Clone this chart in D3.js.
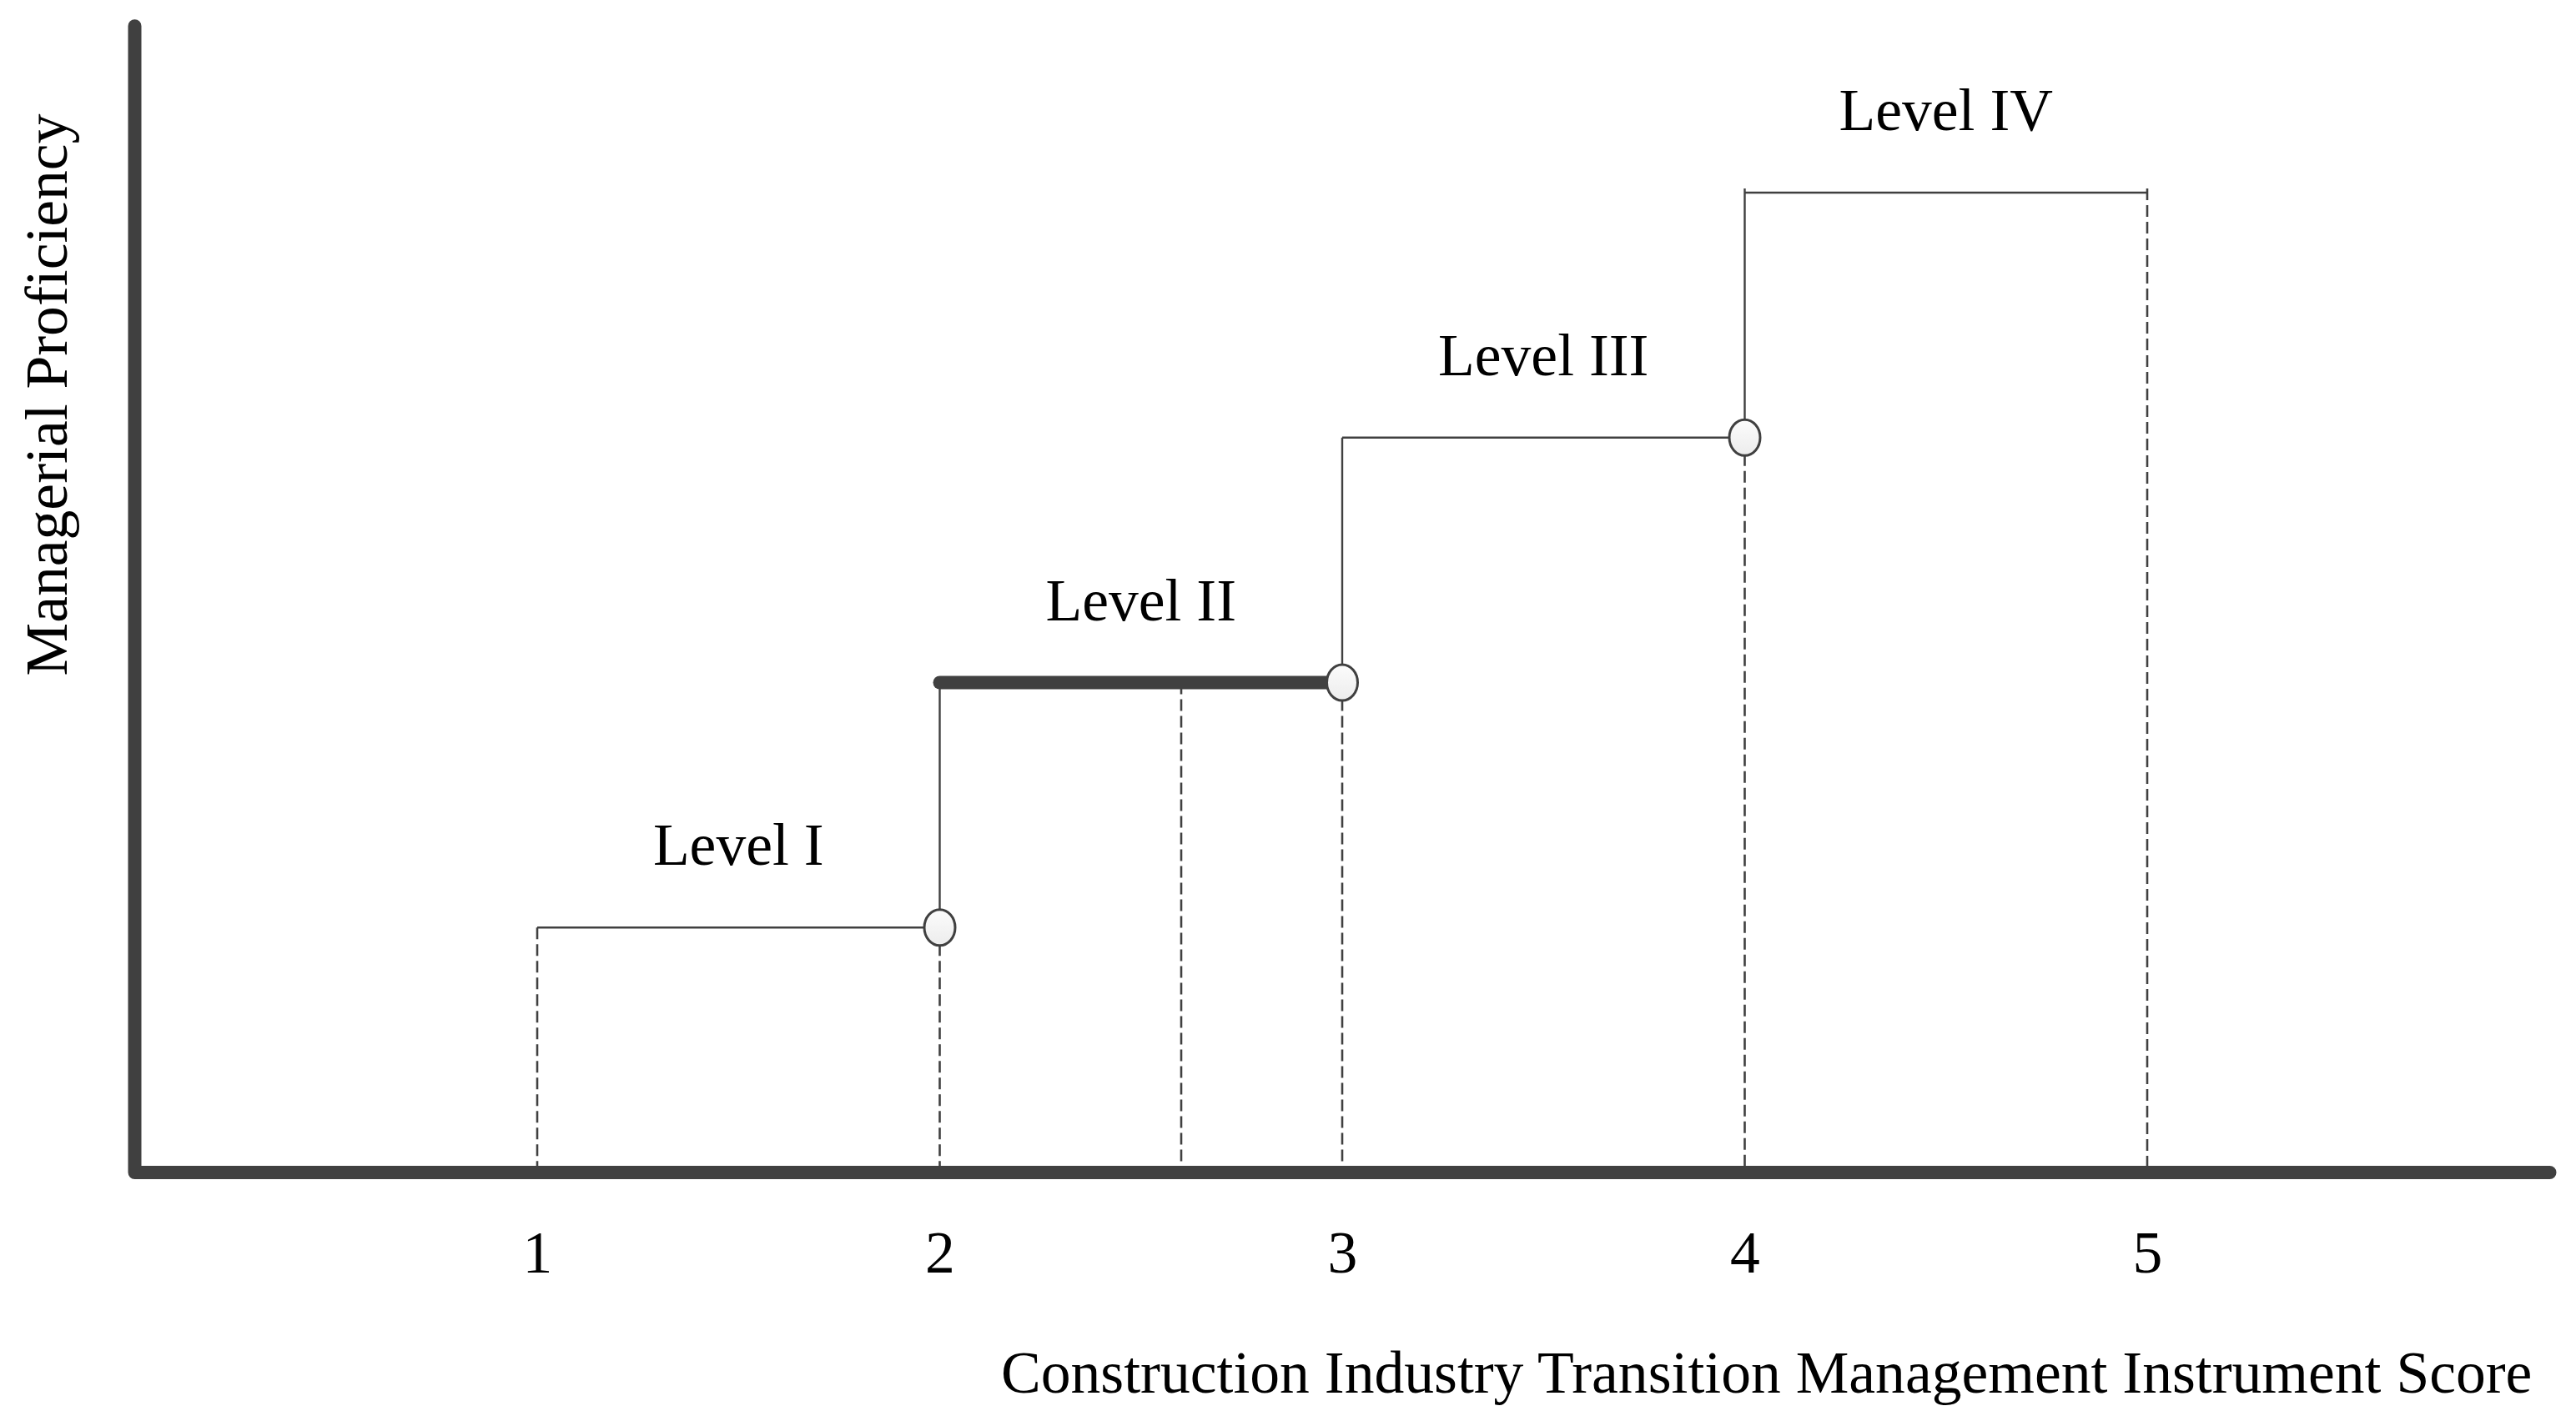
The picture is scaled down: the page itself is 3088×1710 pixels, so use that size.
<!DOCTYPE html>
<html>
<head>
<meta charset="utf-8">
<script src="https://cdn.jsdelivr.net/npm/d3@7"></script>
<style>
  html, body { margin: 0; padding: 0; background: #ffffff; }
  svg { display: block; }
  text { font-family: "Liberation Serif", "Times New Roman", serif; fill: #000; }
</style>
</head>
<body>
<svg id="chart" width="3088" height="1710"></svg>
<script>
// ---- data ----
const xTickValues = [1, 2, 3, 4, 5];
const xTickLabels = ["1", "2", "3", "4", "5"];
const levelNames = ["Level I", "Level II", "Level III", "Level IV"];
const levelStart = [1, 2, 3, 4];
const levelEnd = [2, 3, 4, 5];
const levelValue = [1, 2, 3, 4];
const highlightLevel = [false, true, false, false];
const circleX = [2, 3, 4];
const circleY = [1, 2, 3];
const riserX = [2, 3, 4];
const riserFrom = [1, 2, 3];
const riserTo = [2, 3, 4];
const dropX = [1, 2, 2.6, 3, 4, 5];
const dropTop = [1, 1, 2, 2, 3, 4];
const xDomain = [0, 6];
const yDomain = [0, 4];
const yAxisTop = 4.68;
const xTitle = "Construction Industry Transition Management Instrument Score";
const yTitle = "Managerial Proficiency";

// ---- setup ----
const svg = d3.select("#chart");
const ink = "#404040";
const x = d3.scaleLinear().domain(xDomain).range([161.5, 3056.5]);
const y = d3.scaleLinear().domain(yDomain).range([1406, 231]);
const fontSize = 71.6;

const defs = svg.append("defs");
const grad = defs.append("linearGradient").attr("id", "cfill")
  .attr("x1", "0").attr("y1", "0").attr("x2", "0").attr("y2", "1");
grad.append("stop").attr("offset", "0%").attr("stop-color", "#fcfcfc");
grad.append("stop").attr("offset", "100%").attr("stop-color", "#ececec");

// dashed drop lines
svg.append("g").selectAll("line").data(dropX).join("line")
  .attr("x1", d => x(d)).attr("x2", d => x(d))
  .attr("y1", (d, i) => y(dropTop[i]) + (dropTop[i] === 4 ? -5 : 0))
  .attr("y2", y(0))
  .attr("stroke", ink).attr("stroke-width", 2.6)
  .attr("stroke-dasharray", "14,6");

// level horizontals (thin)
svg.append("g").selectAll("line").data(levelNames.map((n, i) => i).filter(i => !highlightLevel[i])).join("line")
  .attr("x1", i => x(levelStart[i])).attr("x2", i => x(levelEnd[i]))
  .attr("y1", i => y(levelValue[i])).attr("y2", i => y(levelValue[i]))
  .attr("stroke", ink).attr("stroke-width", 2.4);

// risers
svg.append("g").selectAll("line").data(riserX).join("line")
  .attr("x1", d => x(d)).attr("x2", d => x(d))
  .attr("y1", (d, i) => y(riserFrom[i]))
  .attr("y2", (d, i) => y(riserTo[i]) + (riserTo[i] === 4 ? -5 : 0))
  .attr("stroke", ink).attr("stroke-width", 2.4);

// highlighted level (thick)
svg.append("g").selectAll("line").data(levelNames.map((n, i) => i).filter(i => highlightLevel[i])).join("line")
  .attr("x1", i => x(levelStart[i])).attr("x2", i => x(levelEnd[i]))
  .attr("y1", i => y(levelValue[i])).attr("y2", i => y(levelValue[i]))
  .attr("stroke", ink).attr("stroke-width", 16).attr("stroke-linecap", "round");

// axes (L-shaped)
svg.append("path")
  .attr("d", d3.line()([[x(0), y(yAxisTop)], [x(0), y(0)], [x(xDomain[1]), y(0)]]))
  .attr("fill", "none").attr("stroke", ink).attr("stroke-width", 16)
  .attr("stroke-linecap", "round").attr("stroke-linejoin", "round");

// circles
svg.append("g").selectAll("ellipse").data(circleX).join("ellipse")
  .attr("cx", d => x(d)).attr("cy", (d, i) => y(circleY[i]))
  .attr("rx", 18.5).attr("ry", 21.5)
  .attr("fill", "url(#cfill)").attr("stroke", ink).attr("stroke-width", 3);

// level labels
svg.append("g").selectAll("text").data(levelNames).join("text")
  .attr("x", (d, i) => x((levelStart[i] + levelEnd[i]) / 2))
  .attr("y", (d, i) => y(levelValue[i]) - 75)
  .attr("text-anchor", "middle").attr("font-size", fontSize)
  .text(d => d);

// x tick labels via axis
const xAxis = d3.axisBottom(x).tickValues(xTickValues)
  .tickFormat((d, i) => xTickLabels[i]).tickSize(0).tickPadding(69);
const gx = svg.append("g").attr("transform", `translate(0,${y(0)})`).call(xAxis);
gx.select(".domain").remove();
gx.selectAll("text").attr("font-size", fontSize)
  .attr("font-family", "Liberation Serif, Times New Roman, serif").attr("fill", "#000");

// axis titles
svg.append("text").attr("x", 1200).attr("y", 1670)
  .attr("font-size", fontSize).text(xTitle);
svg.append("text").attr("transform", "translate(80,473.5) rotate(-90)")
  .attr("text-anchor", "middle").attr("font-size", fontSize).text(yTitle);
</script>
</body>
</html>
